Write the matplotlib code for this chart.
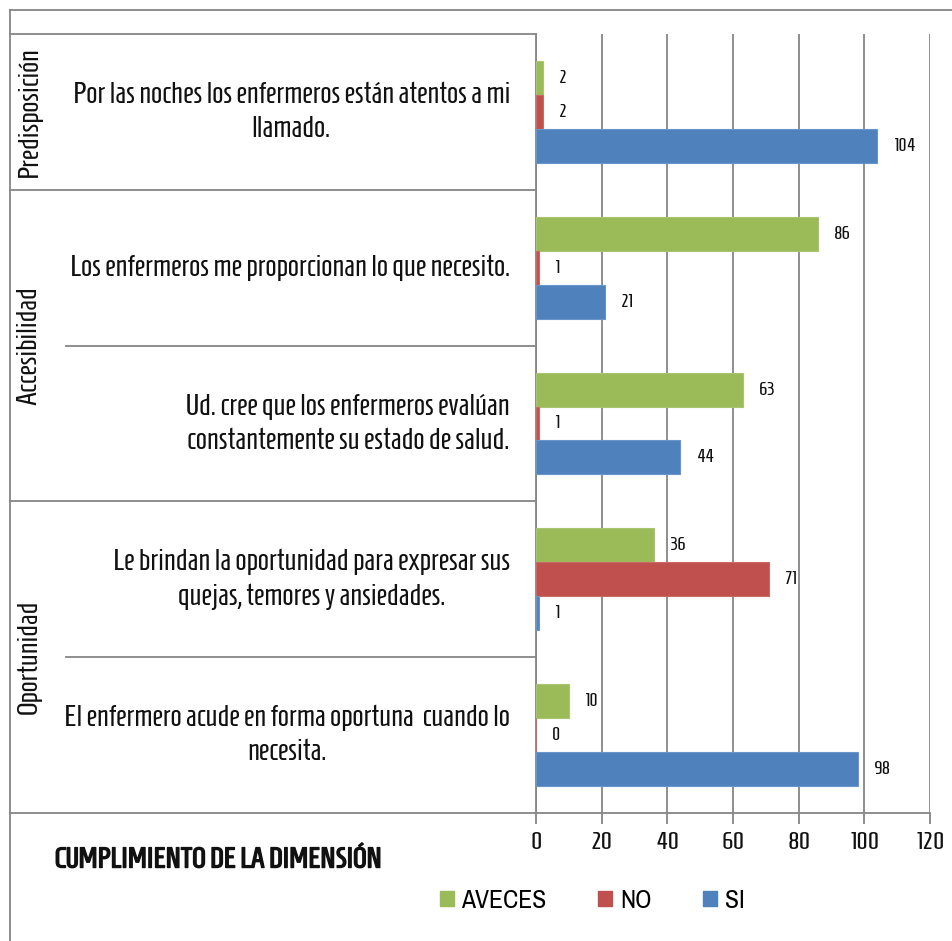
import matplotlib.pyplot as plt
import matplotlib.patheffects as pe
from matplotlib.patches import Patch
from matplotlib.lines import Line2D
from matplotlib.transforms import blended_transform_factory

preguntas = [
    "Por las noches los enfermeros están atentos a mi\nllamado.",
    "Los enfermeros me proporcionan lo que necesito.",
    "Ud. cree que los enfermeros evalúan\nconstantemente su estado de salud.",
    "Le brindan la oportunidad para expresar sus\nquejas, temores y ansiedades.",
    "El enfermero acude en forma oportuna  cuando lo\nnecesita.",
]
dimensiones = ["Predisposición", "Accesibilidad", "Oportunidad"]
filas_dimension = [1, 2, 2]

aveces = [2, 86, 63, 36, 10]
no = [2, 1, 1, 71, 0]
si = [104, 21, 44, 1, 98]
series = ["AVECES", "NO", "SI"]
colores = ["#9BBB59", "#C0504D", "#4F81BD"]
bordes = ["#A9C56F", "#C96A67", "#6A95C9"]
ticks_x = [0, 20, 40, 60, 80, 100, 120]

plt.rcParams['font.family'] = ['Homenaje', 'DejaVu Sans']
gris = "#868686"
negro = "#111111"

W, H = 952, 941
fig = plt.figure(figsize=(W / 100, H / 100), dpi=100)
ax = fig.add_axes([536 / W, 128 / H, 394 / W, 779 / H])

h = 0.218
for k, (vals, col, ec) in enumerate(zip([aveces, no, si], colores, bordes)):
    ys = [i + (k - 1) * h for i in range(len(preguntas))]
    bars = ax.barh(ys, vals, height=h, color=col, edgecolor=ec, linewidth=0.8, zorder=3)
    for b, v in zip(bars, vals):
        ax.annotate(str(v), (v, b.get_y() + h / 2), xytext=(16, 0),
                    textcoords='offset pixels', ha='left', va='center',
                    fontsize=13, color=negro)

ax.set_xlim(0, 120)
ax.set_ylim(len(preguntas) - 0.5, -0.5)
ax.set_xticks(ticks_x)
ax.set_yticks([])
ax.grid(axis='x', color=gris, linewidth=1.3, zorder=0)
for s in ['top', 'right']:
    ax.spines[s].set_visible(False)
for s in ['left', 'bottom']:
    ax.spines[s].set_color(gris)
    ax.spines[s].set_linewidth(1.3)
ax.tick_params(axis='x', direction='out', length=8, color=gris, width=1.3,
               labelsize=18, pad=6, labelcolor=negro)

# tabla de la izquierda: dimensiones y preguntas
tr = blended_transform_factory(fig.transFigure, ax.transData)
x0, x1, x2 = 10 / W, 66 / W, 536 / W
fila = -0.5
ax.add_line(Line2D([x0, x2], [fila, fila], transform=tr, color=gris, lw=1.3, clip_on=False))
for nombre, n in zip(dimensiones, filas_dimension):
    for j in range(n):
        fila += 1
        inicio = x0 if j == n - 1 else x1
        ax.add_line(Line2D([inicio, x2], [fila, fila], transform=tr, color=gris,
                           lw=1.3, clip_on=False))
    centro = fila - n / 2
    ax.text(29 / W, centro, nombre, transform=tr, rotation=90, ha='center',
            va='center', fontsize=20.8, color=negro)

for i, p in enumerate(preguntas):
    ax.text(510 / W, i, p, transform=tr, ha='right', va='center',
            multialignment='center', fontsize=21.2, color=negro, linespacing=1.38)

# marco exterior
fig.add_artist(Line2D([10 / W, 1], [1 - 10 / H, 1 - 10 / H], color=gris, lw=1.3))
fig.add_artist(Line2D([10 / W, 10 / W], [0, 1 - 10 / H], color=gris, lw=1.3))

fig.text(55 / W, 1 - 860 / H, "CUMPLIMIENTO DE LA DIMENSIÓN", ha='left', va='center',
         fontsize=20.5, color=negro,
         path_effects=[pe.withStroke(linewidth=1.0, foreground=negro)])

handles = [Patch(facecolor=c, edgecolor=c) for c in colores]
fig.legend(handles, series, loc='center', bbox_to_anchor=(592 / W, 1 - 900 / H),
           ncol=3, frameon=False, handlelength=0.55, handleheight=0.55,
           handletextpad=0.3, columnspacing=2.0,
           prop={'family': 'Archivo Narrow', 'size': 18.5})

fig.savefig("out.png", dpi=100)
